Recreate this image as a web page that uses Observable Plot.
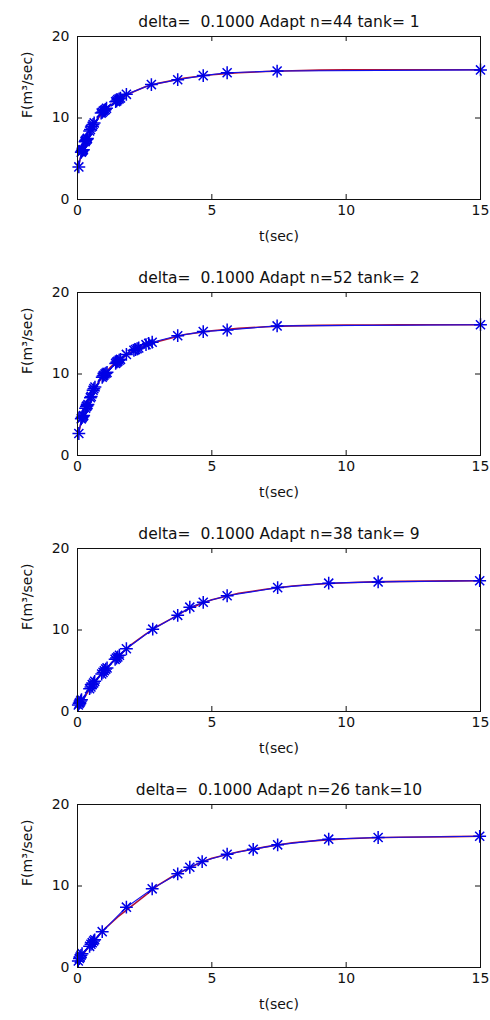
<!DOCTYPE html>
<html><head><meta charset="utf-8">
<script src="https://cdn.jsdelivr.net/npm/d3@7"></script>
<script src="https://cdn.jsdelivr.net/npm/@observablehq/plot@0.6"></script>
<style>
body{margin:0;background:#fff}
#chart{width:490px}
#chart svg{display:block}
</style></head>
<body><div id="chart"></div>
<script>
// titles
const titles = [
  "delta=  0.1000 Adapt n=44 tank= 1",
  "delta=  0.1000 Adapt n=52 tank= 2",
  "delta=  0.1000 Adapt n=38 tank= 9",
  "delta=  0.1000 Adapt n=26 tank=10"
];
const xTicks = [0, 5, 10, 15];
const yTicks = [0, 10, 20];
const xLabel = "t(sec)";
const yLabel = "F(m³/sec)";

// reference (red) curves
const ref1T = [0, 0.05, 0.1, 0.2, 0.35, 0.5, 0.75, 1, 1.25, 1.5, 2, 2.5, 3, 4, 5, 6, 7, 8, 9, 10, 11, 12, 13, 14, 15];
const ref1F = [4.0, 4.3, 5.0, 6.1, 7.4, 8.6, 9.9, 10.9, 11.6, 12.2, 13.1, 13.8, 14.25, 14.9, 15.3, 15.55, 15.7, 15.8, 15.87, 15.9, 15.92, 15.92, 15.92, 15.92, 15.92];
const ref2T = [0, 0.05, 0.1, 0.2, 0.35, 0.5, 0.75, 1, 1.25, 1.5, 2, 2.5, 3, 4, 5, 6, 7, 8, 9, 10, 11, 12, 13, 14, 15];
const ref2F = [2.7, 2.8, 3.6, 4.8, 6.1, 7.2, 8.8, 10.0, 10.9, 11.6, 12.7, 13.5, 14.0, 14.85, 15.3, 15.6, 15.8, 15.9, 15.97, 16.0, 16.02, 16.03, 16.04, 16.05, 16.05];
const ref3T = [0, 0.1, 0.25, 0.5, 0.75, 1, 1.25, 1.5, 2, 2.5, 3, 3.5, 4, 4.5, 5, 6, 7, 8, 9, 10, 11, 12, 13, 14, 15];
const ref3F = [0.7, 1.1, 1.7, 3.0, 4.1, 5.0, 5.9, 6.7, 8.2, 9.4, 10.5, 11.4, 12.35, 13.1, 13.7, 14.5, 15.0, 15.4, 15.65, 15.8, 15.9, 15.97, 16.0, 16.03, 16.05];
const ref4T = [0, 0.1, 0.25, 0.5, 0.75, 1, 1.5, 2, 2.5, 3, 3.5, 4, 4.5, 5, 6, 7, 8, 9, 10, 11, 12, 13, 14, 15];
const ref4F = [0.7, 1.1, 1.8, 2.9, 3.8, 4.7, 6.2, 7.5, 8.8, 10.1, 11.1, 11.95, 12.75, 13.4, 14.2, 14.8, 15.3, 15.6, 15.8, 15.92, 15.98, 16.02, 16.06, 16.1];

// adaptive steps (blue asterisks)
const step1T = [0.05, 0.14, 0.16, 0.18, 0.2, 0.22, 0.28, 0.3, 0.32, 0.35, 0.37, 0.45, 0.48, 0.55, 0.58, 0.62, 0.88, 0.92, 0.96, 1.0, 1.04, 1.08, 1.42, 1.46, 1.5, 1.55, 1.6, 1.82, 2.75, 3.73, 4.68, 5.57, 7.43, 15];
const step1F = [4.0, 5.8, 5.9, 6.0, 6.1, 6.1, 7.1, 7.2, 7.3, 7.4, 7.5, 8.4, 8.6, 9.0, 9.2, 9.4, 10.6, 10.7, 10.85, 10.95, 11.05, 11.2, 12.0, 12.1, 12.25, 12.35, 12.45, 12.9, 14.1, 14.7, 15.2, 15.55, 15.76, 15.9];
const step2T = [0.05, 0.14, 0.17, 0.2, 0.23, 0.3, 0.33, 0.36, 0.39, 0.48, 0.51, 0.58, 0.61, 0.65, 0.92, 0.95, 0.98, 1.02, 1.06, 1.1, 1.42, 1.46, 1.5, 1.55, 1.6, 1.82, 2.1, 2.16, 2.22, 2.28, 2.55, 2.65, 2.78, 3.73, 4.68, 5.57, 7.43, 15];
const step2F = [2.7, 4.5, 4.65, 4.8, 4.9, 5.8, 6.0, 6.1, 6.25, 7.1, 7.25, 8.0, 8.2, 8.4, 9.6, 9.75, 9.85, 10.0, 10.1, 10.2, 11.3, 11.45, 11.55, 11.7, 11.8, 12.4, 12.9, 13.0, 13.1, 13.2, 13.6, 13.75, 13.9, 14.7, 15.2, 15.4, 15.9, 16.05];
const step3T = [0.03, 0.06, 0.09, 0.12, 0.15, 0.45, 0.5, 0.55, 0.6, 0.64, 0.9, 0.95, 1.0, 1.05, 1.1, 1.4, 1.45, 1.5, 1.56, 1.82, 2.8, 3.73, 4.18, 4.68, 5.57, 7.45, 9.35, 11.19, 14.97];
const step3F = [0.8, 1.0, 1.1, 1.3, 1.45, 2.8, 3.0, 3.3, 3.5, 3.7, 4.6, 4.8, 5.0, 5.2, 5.35, 6.4, 6.55, 6.7, 6.9, 7.7, 10.1, 11.8, 12.8, 13.4, 14.2, 15.2, 15.75, 15.9, 16.05];
const step4T = [0.03, 0.07, 0.1, 0.13, 0.17, 0.45, 0.5, 0.55, 0.6, 0.64, 0.92, 1.82, 2.78, 3.73, 4.18, 4.64, 5.57, 6.54, 7.45, 9.35, 11.19, 14.97];
const step4F = [0.8, 1.1, 1.3, 1.5, 1.7, 2.6, 2.85, 3.05, 3.25, 3.4, 4.4, 7.4, 9.65, 11.5, 12.3, 13.0, 13.9, 14.5, 15.05, 15.75, 15.95, 16.1];

const panels = [
  [titles[0], ref1T, ref1F, step1T, step1F],
  [titles[1], ref2T, ref2F, step2T, step2F],
  [titles[2], ref3T, ref3F, step3T, step3F],
  [titles[3], ref4T, ref4F, step4T, step4F]
];

const W = 490, H = 256, mT = 36, mB = 57, mL = 77, mR = 10;
const fh = H - mT - mB, fw = W - mL - mR, tk = 5;
const zip = (a, b) => a.map((t, i) => ({t, F: b[i]}));

for (const [title, rT, rF, sT, sF] of panels) {
  const ref = zip(rT, rF), steps = zip(sT, sF);
  const svg = Plot.plot({
    width: W, height: H,
    marginTop: mT, marginBottom: mB, marginLeft: mL, marginRight: mR,
    x: {domain: [0, 15], axis: null, label: null},
    y: {domain: [0, 20], axis: null, label: null},
    style: {fontFamily: "'DejaVu Sans', sans-serif", fontSize: "14px", color: "#111", background: "white"},
    marks: [
      Plot.line(ref, {x: "t", y: "F", stroke: "#b0103a", strokeWidth: 1.6}),
      Plot.line(steps, {x: "t", y: "F", stroke: "#1010ee", strokeWidth: 1.1}),
      Plot.dot(steps, {x: "t", y: "F", symbol: "plus", r: 4.2, stroke: "#0000e6", strokeWidth: 1.5}),
      Plot.dot(steps, {x: "t", y: "F", symbol: "times", r: 4.2, stroke: "#0000e6", strokeWidth: 1.5}),
      Plot.frame({stroke: "#111"}),
      Plot.tickX(xTicks, {x: d => d, insetTop: fh - tk, stroke: "#111"}),
      Plot.tickX(xTicks, {x: d => d, insetBottom: fh - tk, stroke: "#111"}),
      Plot.tickY(yTicks, {y: d => d, insetRight: fw - tk, stroke: "#111"}),
      Plot.tickY(yTicks, {y: d => d, insetLeft: fw - tk, stroke: "#111"}),
      Plot.axisX(xTicks, {anchor: "bottom", tickSize: 0, tickPadding: 6, label: null, fontSize: 14}),
      Plot.axisY(yTicks, {anchor: "left", tickSize: 0, tickPadding: 8, label: null, fontSize: 14}),
      Plot.text([title], {text: d => d, frameAnchor: "top", dy: -21, fontSize: 15.5}),
      Plot.text([xLabel], {text: d => d, frameAnchor: "bottom", dy: 41, fontSize: 14}),
      Plot.text([yLabel], {text: d => d, frameAnchor: "left", dx: -50, rotate: -90, fontSize: 14})
    ]
  });
  document.getElementById("chart").appendChild(svg);
}
</script>
</body></html>
